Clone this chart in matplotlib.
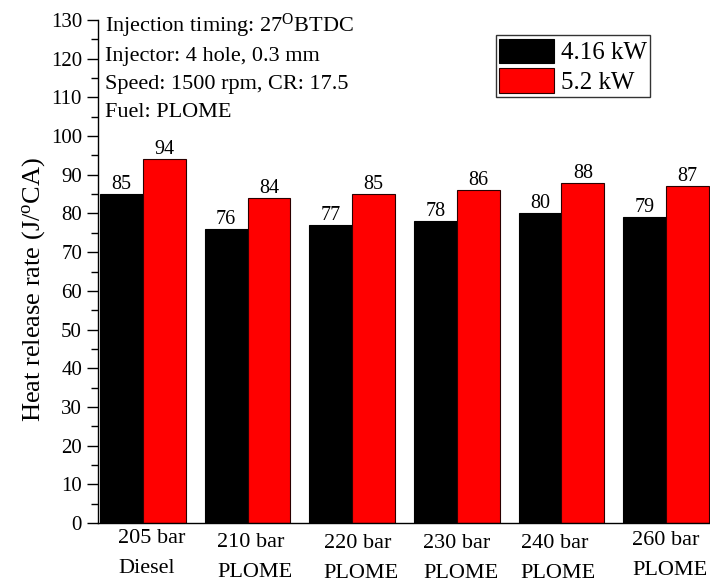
import matplotlib
matplotlib.use('Agg')
import matplotlib.pyplot as plt
import numpy as np
from matplotlib.transforms import ScaledTranslation
from matplotlib.ticker import MultipleLocator

plt.rcParams['font.family'] = ['Liberation Serif', 'DejaVu Serif']
plt.rcParams['font.size'] = 15
plt.rcParams['mathtext.fontset'] = 'custom'
plt.rcParams['mathtext.rm'] = 'Liberation Serif'
plt.rcParams['mathtext.it'] = 'Liberation Serif:italic'

# ---- data ----
categories = ['205 bar\nDiesel', '210 bar\nPLOME', '220 bar\nPLOME',
              '230 bar\nPLOME', '240 bar\nPLOME', '260 bar\nPLOME']
series_names = ['4.16 kW', '5.2 kW']
hrr_416kw = [85, 76, 77, 78, 80, 79]
hrr_52kw = [94, 84, 85, 86, 88, 87]
info_lines = ['Injection timing: 27$^{\\mathrm{O}}$BTDC',
              'Injector: 4 hole, 0.3 mm',
              'Speed: 1500 rpm, CR: 17.5',
              'Fuel: PLOME']
y_ticks = list(range(0, 131, 10))

# ---- figure ----
W, H = 710, 584
fig = plt.figure(figsize=(W / 100, H / 100), dpi=100)
ax = fig.add_axes([98 / W, 1 - 523 / H, 1 - 98 / W, (523 - 20) / H])

x = np.arange(len(categories))
w = 0.41
b1 = ax.bar(x - w / 2, hrr_416kw, w, color='black', edgecolor='black',
            linewidth=0.8, label=series_names[0])
b2 = ax.bar(x + w / 2, hrr_52kw, w, color='#ff0000', edgecolor='#2a0000',
            linewidth=0.8, label=series_names[1])
ax.bar_label(b1, padding=0, fontsize=14.5)
ax.bar_label(b2, padding=0, fontsize=14.5)

ax.set_ylim(0, 130)
ax.set_xlim(-0.43, 5.42)
ax.set_yticks(y_ticks)
ax.yaxis.set_minor_locator(MultipleLocator(5))
ax.tick_params(axis='y', which='major', direction='out', length=8, width=1,
               labelsize=15)
ax.tick_params(axis='y', which='minor', direction='out', length=5, width=1)

ax.set_xticks(x)
ax.set_xticklabels(categories, multialignment='left', linespacing=1.8,
                   fontsize=16)
ax.tick_params(axis='x', length=0, pad=4)

# small per-label offsets (pixels) to mimic the staggered labels
dx_px = [9, 7, 9, 4, -3, 4]
dy_px = [0, -4, -5, -5, -5, -2]
for lab, dx, dy in zip(ax.get_xticklabels(), dx_px, dy_px):
    lab.set_transform(lab.get_transform() +
                      ScaledTranslation(dx / 100, dy / 100, fig.dpi_scale_trans))

for s in ['top', 'right']:
    ax.spines[s].set_visible(False)
for s in ['left', 'bottom']:
    ax.spines[s].set_linewidth(1)

ax.set_ylabel('Heat release rate (J/$^{\\mathrm{o}}$CA)', fontsize=19)
ax.yaxis.set_label_coords(-0.083, 0.465)

# info text
baselines = [0.976, 0.918, 0.862, 0.807]
for t, yy in zip(info_lines, baselines):
    ax.text(0.0114, yy, t, transform=ax.transAxes, ha='left', va='baseline',
            fontsize=16)

leg = ax.legend(loc='upper left', bbox_to_anchor=(0.650, 0.970),
                borderaxespad=0, fancybox=False, framealpha=1,
                edgecolor='#333333', handlelength=2.2, handleheight=1.12,
                labelspacing=0.16, borderpad=0.14, handletextpad=0.25,
                fontsize=18)
leg.get_frame().set_linewidth(1)

fig.savefig('out.png', dpi=100)
